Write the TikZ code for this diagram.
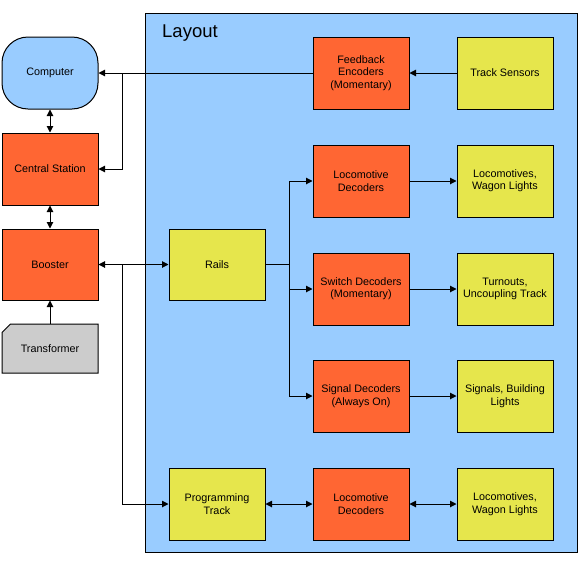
\documentclass[tikz,border=0pt]{standalone}
\usepackage{fontspec}
\setmainfont{Liberation Sans}
\usetikzlibrary{arrows.meta,shapes.misc}
\definecolor{lay}{HTML}{99CCFF}
\definecolor{org}{HTML}{FF6633}
\definecolor{yel}{HTML}{E6E64C}
\definecolor{gry}{HTML}{CCCCCC}
\tikzset{
  blk/.style={draw=black, line width=1pt, minimum width=96pt, minimum height=72pt, inner sep=1pt, align=center, font=\fontsize{10.8}{12.4}\selectfont},
  dec/.style={blk, fill=org},
  dev/.style={blk, fill=yel},
  con/.style={line width=1pt, -{Triangle[length=6.5pt,width=6.5pt]}},
  bicon/.style={line width=1pt, {Triangle[length=6.5pt,width=6.5pt]}-{Triangle[length=6.5pt,width=6.5pt]}},
  ln/.style={line width=1pt}
}
\begin{document}
\begin{tikzpicture}[x=1pt,y=-1pt]
\useasboundingbox (0,0) rectangle (580,565);
\fill[white] (0,0) rectangle (580,565);
\draw[line width=1pt, fill=lay] (145.5,13.5) rectangle (577,552) ;
\node[anchor=base west, font=\fontsize{18.5}{20}\selectfont, inner sep=0pt] (title) at (162,37) {Layout};

\node[blk, fill=lay, rounded corners=26pt] (comp) at (50,73) {Computer};
\node[dec] (cs) at (50,169) {Central Station};
\node[dec, minimum height=71pt] (boost) at (50,264.5) {Booster};
\node[blk, fill=gry, chamfered rectangle, chamfered rectangle corners=north west, chamfered rectangle xsep=16pt, minimum height=49pt] (trans) at (50,348.5) {Transformer};

\node[dec] (fb) at (361,73) {Feedback\\Encoders\\(Momentary)};
\node[dev] (ts) at (505,73) {Track Sensors};
\node[dec] (ld) at (361,181) {Locomotive\\Decoders};
\node[dev] (lw) at (505,181) {Locomotives,\\Wagon Lights};
\node[dec] (sd) at (361,289) {Switch Decoders\\(Momentary)};
\node[dev] (tu) at (505,289) {Turnouts,\\Uncoupling Track};
\node[dec] (sg) at (361,396) {Signal Decoders\\(Always On)};
\node[dev] (sl) at (505,396) {Signals, Building\\Lights};
\node[dev, minimum height=71pt] (rails) at (217,264.5) {Rails};
\node[dev] (pt) at (217,504) {Programming\\Track};
\node[dec] (ld2) at (361,504) {Locomotive\\Decoders};
\node[dev] (lw2) at (505,504) {Locomotives,\\Wagon Lights};

\coordinate (j1) at (122,73);
\coordinate (j2) at (122,264.5);
\coordinate (j3) at (289,264.5);

\draw[con] (ts) -- (fb);
\draw[con] (fb.west) -- (comp.east);
\draw[con] (j1) |- (cs.east);
\draw[bicon] (comp) -- (cs);
\draw[bicon] (cs) -- (boost);
\draw[con] (trans) -- (boost);
\draw[bicon] (boost) -- (rails);
\draw[con] (j2) |- (pt.west);
\draw[ln] (rails.east) -- (j3);
\draw[con] (j3) |- (ld.west);
\draw[con] (j3) |- (sd.west);
\draw[con] (j3) |- (sg.west);
\draw[con] (ld) -- (lw);
\draw[con] (sd) -- (tu);
\draw[con] (sg) -- (sl);
\draw[bicon] (pt) -- (ld2);
\draw[bicon] (ld2) -- (lw2);
\end{tikzpicture}
\end{document}
